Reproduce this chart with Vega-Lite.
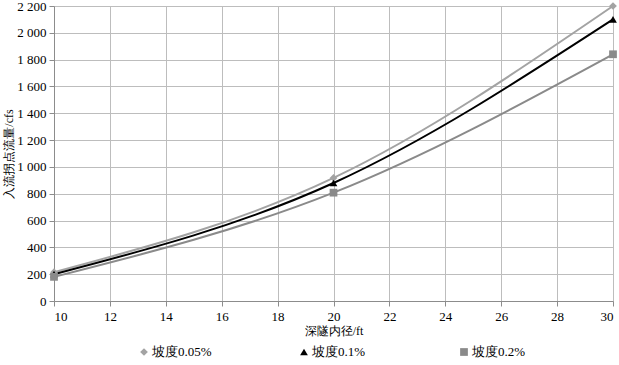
{
  "$schema": "https://vega.github.io/schema/vega-lite/v6.json",
  "padding": {"left": 2, "top": 0, "right": 0, "bottom": 0},
  "background": "white",
  "spacing": 8,
  "config": {
    "font": "Liberation Serif",
    "view": {"stroke": null},
    "axis": {
      "labelFont": "Liberation Serif",
      "labelFontSize": 13,
      "labelColor": "#000000",
      "titleFont": "Liberation Serif",
      "titleFontSize": 12,
      "titleFontWeight": "normal",
      "titleColor": "#000000",
      "gridColor": "#bdbdbd",
      "gridWidth": 1,
      "domainColor": "#8c8c8c",
      "tickColor": "#8c8c8c",
      "tickSize": 5
    }
  },
  "vconcat": [
    {
      "width": 559,
      "height": 295,
      "data": {
        "values": [
          {"slope": "坡度0.05%", "d": 10, "q": 215},
          {"slope": "坡度0.05%", "d": 20, "q": 918},
          {"slope": "坡度0.05%", "d": 30, "q": 2200},
          {"slope": "坡度0.1%", "d": 10, "q": 200},
          {"slope": "坡度0.1%", "d": 20, "q": 880},
          {"slope": "坡度0.1%", "d": 30, "q": 2100},
          {"slope": "坡度0.2%", "d": 10, "q": 180},
          {"slope": "坡度0.2%", "d": 20, "q": 808},
          {"slope": "坡度0.2%", "d": 30, "q": 1840}
        ]
      },
      "encoding": {
        "x": {
          "field": "d", "type": "quantitative",
          "scale": {"domain": [10, 30], "nice": false, "zero": false},
          "axis": {"values": [10,12,14,16,18,20,22,24,26,28,30], "title": "深隧内径/ft", "titlePadding": 2, "labelPadding": 4}
        },
        "y": {
          "field": "q", "type": "quantitative",
          "scale": {"domain": [0, 2200], "nice": false},
          "axis": {"values": [0,200,400,600,800,1000,1200,1400,1600,1800,2000,2200], "title": "入流拐点流量/cfs", "labelExpr": "replace(format(datum.value, ','), ',', ' ')", "titlePadding": 1, "labelPadding": 3}
        }
      },
      "layer": [
        {
          "mark": {"type": "line", "interpolate": "monotone", "strokeWidth": 2},
          "encoding": {
            "detail": {"field": "slope", "type": "nominal"},
            "stroke": {
              "field": "slope", "type": "nominal", "legend": null,
              "scale": {"domain": ["坡度0.05%", "坡度0.1%", "坡度0.2%"], "range": ["#a3a3a3", "#000000", "#8a8a8a"]}
            }
          }
        },
        {
          "mark": {"type": "point", "filled": true, "opacity": 1, "size": 60},
          "encoding": {
            "color": {
              "field": "slope", "type": "nominal", "legend": null,
              "scale": {"domain": ["坡度0.05%", "坡度0.1%", "坡度0.2%"], "range": ["#a3a3a3", "#000000", "#8a8a8a"]}
            },
            "shape": {
              "field": "slope", "type": "nominal", "legend": null,
              "scale": {"domain": ["坡度0.05%", "坡度0.1%", "坡度0.2%"], "range": ["diamond", "triangle-up", "square"]}
            }
          }
        }
      ]
    },
    {
      "width": 500,
      "height": 16,
      "data": {
        "values": [
          {"slope": "坡度0.05%"},
          {"slope": "坡度0.1%"},
          {"slope": "坡度0.2%"}
        ]
      },
      "encoding": {
        "x": {
          "field": "slope", "type": "nominal", "axis": null,
          "scale": {"type": "point", "domain": ["坡度0.05%", "坡度0.1%", "坡度0.2%"], "padding": 0.5625}
        }
      },
      "layer": [
        {
          "mark": {"type": "point", "filled": true, "opacity": 1, "size": 60},
          "encoding": {
            "color": {
              "field": "slope", "type": "nominal", "legend": null,
              "scale": {"domain": ["坡度0.05%", "坡度0.1%", "坡度0.2%"], "range": ["#a3a3a3", "#000000", "#8a8a8a"]}
            },
            "shape": {
              "field": "slope", "type": "nominal", "legend": null,
              "scale": {"domain": ["坡度0.05%", "坡度0.1%", "坡度0.2%"], "range": ["diamond", "triangle-up", "square"]}
            }
          }
        },
        {
          "mark": {"type": "text", "align": "left", "baseline": "middle", "dx": 8, "fontSize": 13, "font": "Liberation Serif", "color": "#000000"},
          "encoding": {
            "text": {"field": "slope", "type": "nominal"}
          }
        }
      ]
    }
  ]
}
